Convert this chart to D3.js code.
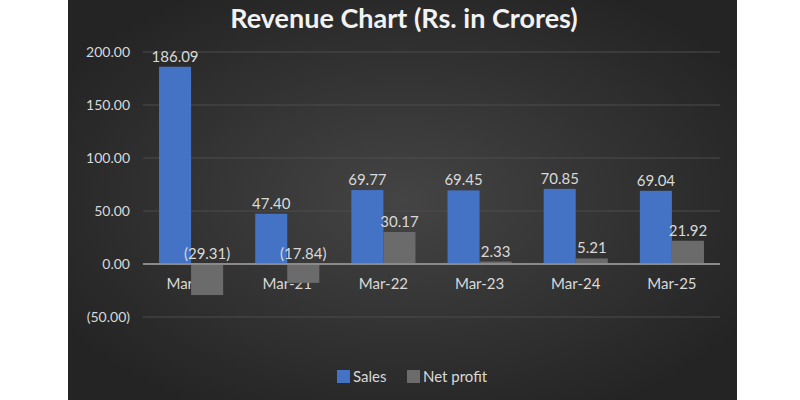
<!DOCTYPE html>
<html lang="en">
<head>
  <meta charset="UTF-8">
  <title>Revenue Chart</title>
  <script src="https://d3js.org/d3.v7.min.js"></script>
  <style>
    body {
      margin: 0;
      background: #ffffff;
      font-family: Lato, "Open Sans", sans-serif;
    }
    svg { display: block; }
  </style>
</head>
<body>
  <div id="chart"></div>
  <script>
    const categories = ["Mar-20", "Mar-21", "Mar-22", "Mar-23", "Mar-24", "Mar-25"];
    const sales = [186.09, 47.40, 69.77, 69.45, 70.85, 69.04];
    const netProfit = [-29.31, -17.84, 30.17, 2.33, 5.21, 21.92];
    const yTicks = [-50, 0, 50, 100, 150, 200];
    const seriesNames = ["Sales", "Net profit"];
    const seriesColors = ["#4472c4", "#6b6b6b"];

    const W = 800, H = 400;
    const panel = { left: 68, right: 737 };
    const plot = { left: 143, right: 720, top: 52, bottom: 317 };

    const svg = d3.select("#chart").append("svg")
      .attr("width", W).attr("height", H);

    const defs = svg.append("defs");
    const grad = defs.append("radialGradient")
      .attr("id", "bg")
      .attr("cx", "50%").attr("cy", "50%").attr("r", "60%");
    grad.append("stop").attr("offset", "0%").attr("stop-color", "#444444");
    grad.append("stop").attr("offset", "100%").attr("stop-color", "#242424");

    svg.append("rect")
      .attr("x", panel.left).attr("y", 0)
      .attr("width", panel.right - panel.left).attr("height", H)
      .attr("fill", "url(#bg)");

    const fmt = v => v < 0 ? `(${d3.format(".2f")(-v)})` : d3.format(".2f")(v);

    const x0 = d3.scaleBand()
      .domain(categories)
      .range([plot.left, plot.right]);

    const x1 = d3.scaleBand()
      .domain(seriesNames)
      .range([0, x0.bandwidth()])
      .paddingInner(0)
      .paddingOuter(0.5);

    const y = d3.scaleLinear()
      .domain([-50, 200])
      .range([plot.bottom, plot.top]);

    const color = d3.scaleOrdinal().domain(seriesNames).range(seriesColors);

    // gridlines
    svg.append("g")
      .selectAll("line")
      .data(yTicks.filter(t => t !== 0))
      .join("line")
      .attr("x1", plot.left).attr("x2", plot.right)
      .attr("y1", d => y(d)).attr("y2", d => y(d))
      .attr("stroke", "#4d4d4d")
      .attr("stroke-width", 1);

    // y axis labels
    const yAxis = svg.append("g")
      .attr("transform", `translate(${plot.left - 10},0)`)
      .call(d3.axisLeft(y).tickValues(yTicks).tickFormat(fmt).tickSize(0));
    yAxis.select(".domain").remove();
    yAxis.selectAll("text")
      .attr("fill", "#d9d9d9")
      .style("font-size", "14px")
      .style("font-family", "Lato, sans-serif");

    // category labels (drawn before bars, bars overlap them)
    const xAxis = svg.append("g")
      .attr("transform", `translate(0,${y(0)})`)
      .call(d3.axisBottom(x0).tickSize(0).tickPadding(14));
    xAxis.select(".domain").remove();
    xAxis.selectAll("text")
      .attr("fill", "#d9d9d9")
      .style("font-size", "15px")
      .style("font-family", "Lato, sans-serif");

    const rows = categories.map((c, i) => ({
      cat: c,
      values: [
        { series: "Sales", value: sales[i] },
        { series: "Net profit", value: netProfit[i] }
      ]
    }));

    const groups = svg.append("g")
      .selectAll("g")
      .data(rows)
      .join("g")
      .attr("transform", d => `translate(${x0(d.cat)},0)`);

    groups.selectAll("rect")
      .data(d => d.values)
      .join("rect")
      .attr("x", d => x1(d.series))
      .attr("width", x1.bandwidth())
      .attr("y", d => y(Math.max(0, d.value)))
      .attr("height", d => Math.abs(y(d.value) - y(0)))
      .attr("fill", d => color(d.series));

    // zero line
    svg.append("line")
      .attr("x1", plot.left).attr("x2", plot.right)
      .attr("y1", y(0)).attr("y2", y(0))
      .attr("stroke", "#8a8a8a")
      .attr("stroke-width", 2);

    // data labels
    groups.selectAll("text.lbl")
      .data(d => d.values)
      .join("text")
      .attr("class", "lbl")
      .attr("x", d => x1(d.series) + x1.bandwidth() / 2)
      .attr("y", d => y(Math.max(0, d.value)) - 5)
      .attr("text-anchor", "middle")
      .attr("fill", "#d9d9d9")
      .style("font-size", "15px")
      .text(d => fmt(d.value));

    // title
    svg.append("text")
      .attr("x", 404).attr("y", 28)
      .attr("text-anchor", "middle")
      .attr("fill", "#f2f2f2")
      .style("font-size", "27px")
      .style("font-weight", "bold")
      .text("Revenue Chart (Rs. in Crores)");

    // legend
    const legend = svg.append("g")
      .selectAll("g")
      .data(seriesNames)
      .join("g")
      .attr("transform", (d, i) => `translate(${[337, 407][i]},370)`);
    legend.append("rect")
      .attr("width", 13).attr("height", 13)
      .attr("fill", d => color(d));
    legend.append("text")
      .attr("x", 16).attr("y", 12)
      .attr("fill", "#d9d9d9")
      .style("font-size", "15px")
      .text(d => d);
  </script>
</body>
</html>
